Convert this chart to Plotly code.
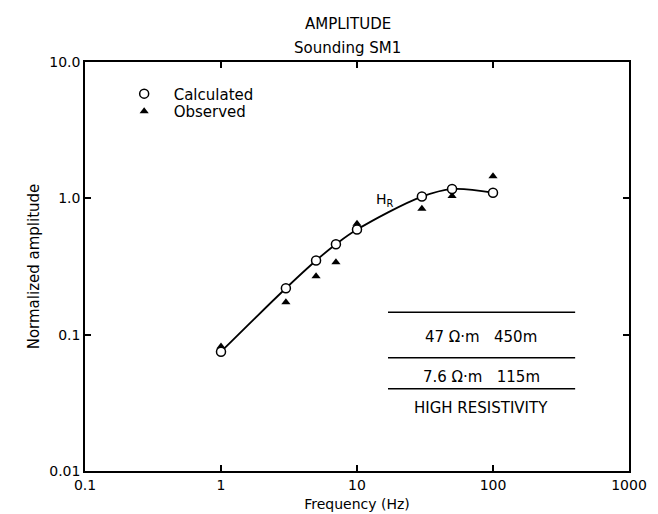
import plotly.graph_objects as go

freq = [1, 3, 5, 7, 10, 30, 50, 100]
calculated = [0.075, 0.219, 0.35, 0.46, 0.59, 1.03, 1.17, 1.10]
observed = [0.082, 0.173, 0.268, 0.34, 0.65, 0.84, 1.04, 1.45]

x_tickvals = [0.1, 1, 10, 100, 1000]
x_ticktext = ["0.1", "1", "10", "100", "1000"]
y_tickvals = [0.01, 0.1, 1, 10]
y_ticktext = ["0.01", "0.1", "1.0", "10.0"]

table_rows = ["47 \u03a9\u00b7m   450m", "7.6 \u03a9\u00b7m   115m", "HIGH RESISTIVITY"]

FONT = "DejaVu Sans"
NB = "\u00a0\u00a0"

fig = go.Figure()
fig.add_trace(go.Scatter(x=freq, y=calculated, mode="lines", line=dict(color="black", width=1.8, shape="spline"),
                         showlegend=False, hoverinfo="skip"))
fig.add_trace(go.Scatter(x=freq, y=observed, mode="markers", name=NB + "Observed", legend="legend2",
                         marker=dict(symbol="triangle-up", size=8, color="black")))
fig.add_trace(go.Scatter(x=freq, y=calculated, mode="markers", name=NB + "Calculated", legend="legend",
                         marker=dict(symbol="circle", size=9, color="white", line=dict(color="black", width=1.5))))

axis_common = dict(showline=True, linecolor="black", linewidth=1.5, mirror="ticks", ticks="inside",
                   ticklen=6, tickwidth=1.5, tickcolor="black", showgrid=False, zeroline=False,
                   tickfont=dict(family=FONT, size=14, color="black"))

fig.update_xaxes(type="log", range=[-1, 3], tickvals=x_tickvals, ticktext=x_ticktext,
                 title=dict(text="Frequency (Hz)", font=dict(family=FONT, size=14, color="black"), standoff=8),
                 **axis_common)
fig.update_yaxes(type="log", range=[-2, 1], tickvals=y_tickvals, ticktext=y_ticktext,
                 title=dict(text="Normalized amplitude", font=dict(family=FONT, size=15, color="black"), standoff=6),
                 **axis_common)

# table lines
for yy in [0.388, 0.277, 0.201]:
    fig.add_shape(type="line", xref="paper", yref="paper", x0=0.557, x1=0.901, y0=yy, y1=yy,
                  line=dict(color="black", width=1.5))
for txt, yy in zip(table_rows, [0.328, 0.231, 0.155]):
    fig.add_annotation(text=txt, xref="paper", yref="paper", x=0.728, y=yy, showarrow=False,
                       font=dict(family=FONT, size=15, color="black"), xanchor="center", yanchor="middle")

fig.add_annotation(text="H<sub>R</sub>", xref="paper", yref="paper", x=0.551, y=0.69, showarrow=False,
                   font=dict(family=FONT, size=14, color="black"))

fig.add_annotation(text="AMPLITUDE", xref="paper", yref="paper", x=0.483, y=1.092, showarrow=False,
                   font=dict(family=FONT, size=15, color="black"), yanchor="middle")
fig.add_annotation(text="Sounding SM1", xref="paper", yref="paper", x=0.483, y=1.034, showarrow=False,
                   font=dict(family=FONT, size=15, color="black"), yanchor="middle")

leg_common = dict(xanchor="left", yanchor="middle", font=dict(family=FONT, size=15, color="black"),
                  bgcolor="rgba(0,0,0,0)", itemwidth=30)
fig.update_layout(
    width=658, height=514,
    margin=dict(l=77, r=37, t=54, b=48),
    paper_bgcolor="white", plot_bgcolor="white",
    legend=dict(x=0.072, y=0.922, **leg_common),
    legend2=dict(x=0.072, y=0.879, **leg_common),
)

fig.write_html("out.html")
